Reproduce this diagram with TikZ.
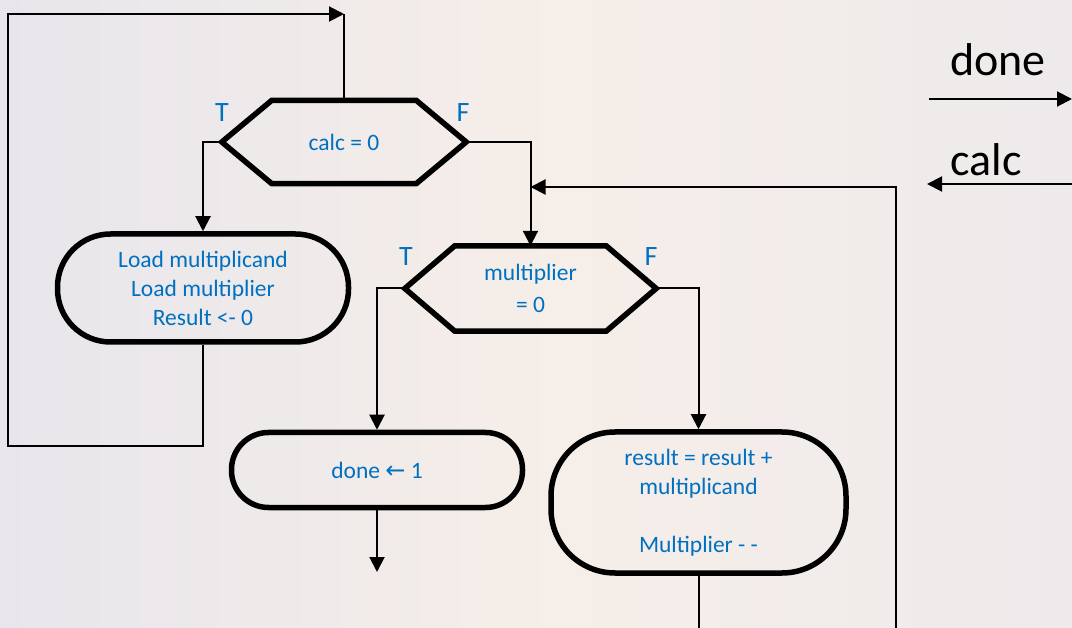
\documentclass[tikz,border=0pt]{standalone}
\usepackage{fontspec}
\setmainfont{Carlito}
\newfontfamily\arrowfont{DejaVu Sans}
\usetikzlibrary{arrows.meta,positioning}

\definecolor{flowblue}{RGB}{0,112,192}
\definecolor{boardleft}{RGB}{232,230,236}
\definecolor{boardmid}{RGB}{246,238,232}
\definecolor{boardright}{RGB}{238,234,236}

\tikzset{
  flow/.style={line width=2pt},
  hexline/.style={line width=5.5pt, line join=miter},
  boxtext/.style={text=flowblue, font=\fontsize{23.5}{29}\selectfont, align=center, inner sep=0pt},
  stepbox/.style={boxtext, draw, line width=5.5pt, rounded corners=#1},
  branch/.style={text=flowblue, font=\fontsize{28}{30}\selectfont, inner sep=0pt},
  portlabel/.style={font=\fontsize{46}{50}\selectfont, inner sep=0pt},
}

\begin{document}
\begin{tikzpicture}[x=1pt, y=-1pt, >={Triangle[length=15pt,width=15pt]}]

    % ================================================================
    % background
    % ================================================================
    \useasboundingbox (0,0) rectangle (1072,628);
    \shade [left color=boardleft, right color=boardmid] (0,0) rectangle (560,628);
    \shade [left color=boardmid, right color=boardright] (560,0) rectangle (1072,628);

    % ================================================================
    % decisions and states
    % ================================================================
    \node [boxtext, minimum width=244, minimum height=83] (calczero) at (344,142) {calc = 0};
    \node [boxtext, minimum width=251, minimum height=85] (multzero) at (530.5,288.5) {multiplier\\[3pt]= 0};

    \foreach \n in {calczero, multzero}
    \draw [hexline] (\n.west) -- ([xshift=50pt]\n.north west) -- ([xshift=-50pt]\n.north east)
      -- (\n.east) -- ([xshift=-50pt]\n.south east) -- ([xshift=50pt]\n.south west) -- cycle;

    \node [stepbox=53, minimum width=291, minimum height=108] (loadregs) at (203,288)
      {Load multiplicand\\Load multiplier\\Result <- 0};
    \node [stepbox=37, minimum width=291, minimum height=75] (donebox) at (377,470)
      {done {\arrowfont\fontsize{24}{24}\selectfont ←} 1};
    \node [stepbox=64, minimum width=295, minimum height=141] (resultbox) at (698.5,502.5)
      {result = result +\\multiplicand\\[29pt]Multiplier - -};

    % ================================================================
    % branch labels
    % ================================================================
    \node [branch] (calcT) at (222,113) {T};
    \node [branch] (calcF) at (463,113) {F};
    \node [branch] (multT) at (406,257) {T};
    \node [branch] (multF) at (651,257) {F};

    % ================================================================
    % ports
    % ================================================================
    \node [portlabel] (donelbl) at (998,60) {done};
    \node [portlabel] (calclbl) at (986,160) {calc};

    \coordinate (donein)   at (929,99);
    \coordinate (doneout)  at (1072,99);
    \coordinate (calcin)   at (1072,184);
    \coordinate (calcport) at (927,184);

    \draw [flow,->] (donein) -- (doneout);
    \draw [flow,->] (calcin) -- (calcport);

    % ================================================================
    % connections
    % ================================================================
    \coordinate (loopleft)  at (8,446);
    \coordinate (looptop)   at (344,14);
    \coordinate (doneexit)  at (377,572);
    \coordinate (resultout) at (698.5,628);
    \coordinate (calcback)  at (896,628);
    \coordinate (calcret)   at (530.5,187);

    \draw [flow,->] (calczero.west) -| (loadregs.north);
    \draw [flow,->] (calczero.east) -| (multzero.north);
    \draw [flow,->] (multzero.west) -| (donebox.north);
    \draw [flow,->] (multzero.east) -| (resultbox.north);

    \draw [flow,->] (loadregs.south) |- (loopleft) |- (looptop);
    \draw [flow] (calczero.north) -- (looptop);

    \draw [flow,->] (donebox.south) -- (doneexit);
    \draw [flow] (resultbox.south) -- (resultout);
    \draw [flow,->] (calcback) |- (calcret);

  \end{tikzpicture}
\end{document}
